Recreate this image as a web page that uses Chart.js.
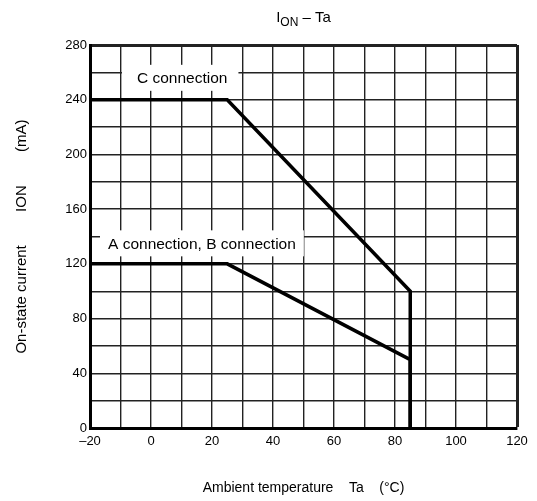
<!DOCTYPE html>
<html>
<head>
<meta charset="utf-8">
<script src="https://cdn.jsdelivr.net/npm/chart.js@4/dist/chart.umd.min.js"></script>
<style>
  html, body { margin: 0; padding: 0; background: #fff; }
  #wrap { width: 537px; height: 501px; }
</style>
</head>
<body>
<div id="wrap"><canvas id="chart" width="537" height="501"></canvas></div>
<script>
// derating curves (Ta in °C, ION in mA)
const cTemps = [-20, 25, 85, 85];
const cCurrent = [240, 240, 100, 0];
const abTemps = [-20, 25, 85, 85];
const abCurrent = [120, 120, 50, 0];

const labelTexts = ["C connection", "A connection, B connection"];
const labelTemps = [-4.6, -14.1];
const labelCurrents = [256, 135];

const xMin = -20, xMax = 120, yMin = 0, yMax = 280;
const FONT = "Liberation Sans, Arial, sans-serif";

const toPoints = (xs, ys) => xs.map((x, i) => ({ x: x, y: ys[i] }));

// title with subscript, plus the white-boxed curve labels
const annotations = {
  id: "annotations",
  afterDatasetsDraw(chart) {
    const { ctx, chartArea, scales } = chart;
    ctx.save();
    ctx.font = "15.5px " + FONT;
    ctx.textBaseline = "middle";
    const pads = [[15, 11], [8, 8]];
    labelTexts.forEach((text, i) => {
      const px = scales.x.getPixelForValue(labelTemps[i]);
      const py = scales.y.getPixelForValue(labelCurrents[i]);
      const w = ctx.measureText(text).width;
      ctx.fillStyle = "#fff";
      ctx.fillRect(px - pads[i][0], py - 13, w + pads[i][0] + pads[i][1], 26);
      ctx.fillStyle = "#000";
      ctx.textAlign = "left";
      ctx.fillText(text, px, py + 1);
    });

    // title "ION – Ta"
    const cx = (chartArea.left + chartArea.right) / 2;
    const parts = [
      { t: "I", size: 15, dy: 0 },
      { t: "ON", size: 12, dy: 4 },
      { t: " – Ta", size: 15, dy: 0 },
    ];
    let total = 0;
    parts.forEach((p) => { ctx.font = p.size + "px " + FONT; p.w = ctx.measureText(p.t).width; total += p.w; });
    let x = cx - total / 2;
    ctx.textAlign = "left";
    ctx.textBaseline = "alphabetic";
    parts.forEach((p) => {
      ctx.font = p.size + "px " + FONT;
      ctx.fillText(p.t, x, 22 + p.dy);
      x += p.w;
    });
    ctx.restore();
  },
};

new Chart(document.getElementById("chart"), {
  type: "scatter",
  data: {
    datasets: [
      {
        label: "C connection",
        data: toPoints(cTemps, cCurrent),
        showLine: true,
        borderColor: "#000",
        borderWidth: 3.5,
        pointRadius: 0,
        tension: 0,
      },
      {
        label: "A connection, B connection",
        data: toPoints(abTemps, abCurrent),
        showLine: true,
        borderColor: "#000",
        borderWidth: 3.5,
        pointRadius: 0,
        tension: 0,
      },
    ],
  },
  options: {
    responsive: false,
    animation: false,
    layout: { padding: { top: 45, right: 20, left: 0, bottom: 0 } },
    plugins: {
      legend: { display: false },
      tooltip: { enabled: false },
    },
    scales: {
      x: {
        type: "linear",
        min: xMin,
        max: xMax,
        afterFit: (s) => { s.height = 73; },
        border: { display: true, color: "#000", width: 3 },
        grid: {
          color: "#222",
          lineWidth: (c) => (c.tick && c.tick.value === xMax ? 3 : 1.4),
          drawTicks: false,
        },
        ticks: {
          stepSize: 10,
          padding: 6,
          color: "#000",
          font: { family: FONT, size: 13 },
          callback: (v) => (v % 20 === 0 ? (v < 0 ? "\u2013" + Math.abs(v) : String(v)) : ""),
        },
        title: {
          display: true,
          text: "Ambient temperature    Ta    (°C)",
          color: "#000",
          font: { family: FONT, size: 14 },
          padding: { top: 20 },
        },
      },
      y: {
        type: "linear",
        min: yMin,
        max: yMax,
        afterFit: (s) => { s.width = 90; },
        border: { display: true, color: "#000", width: 3 },
        grid: {
          color: "#222",
          lineWidth: (c) => (c.tick && c.tick.value === yMax ? 3 : 1.4),
          drawTicks: false,
        },
        ticks: {
          stepSize: 20,
          padding: 3,
          color: "#000",
          font: { family: FONT, size: 13 },
          callback: (v) => (v % 40 === 0 ? String(v) : ""),
        },
        title: {
          display: true,
          text: "On-state current        ION        (mA)",
          color: "#000",
          font: { family: FONT, size: 15 },
          padding: { top: 13, bottom: 0 },
        },
      },
    },
  },
  plugins: [annotations],
});
</script>
</body>
</html>
